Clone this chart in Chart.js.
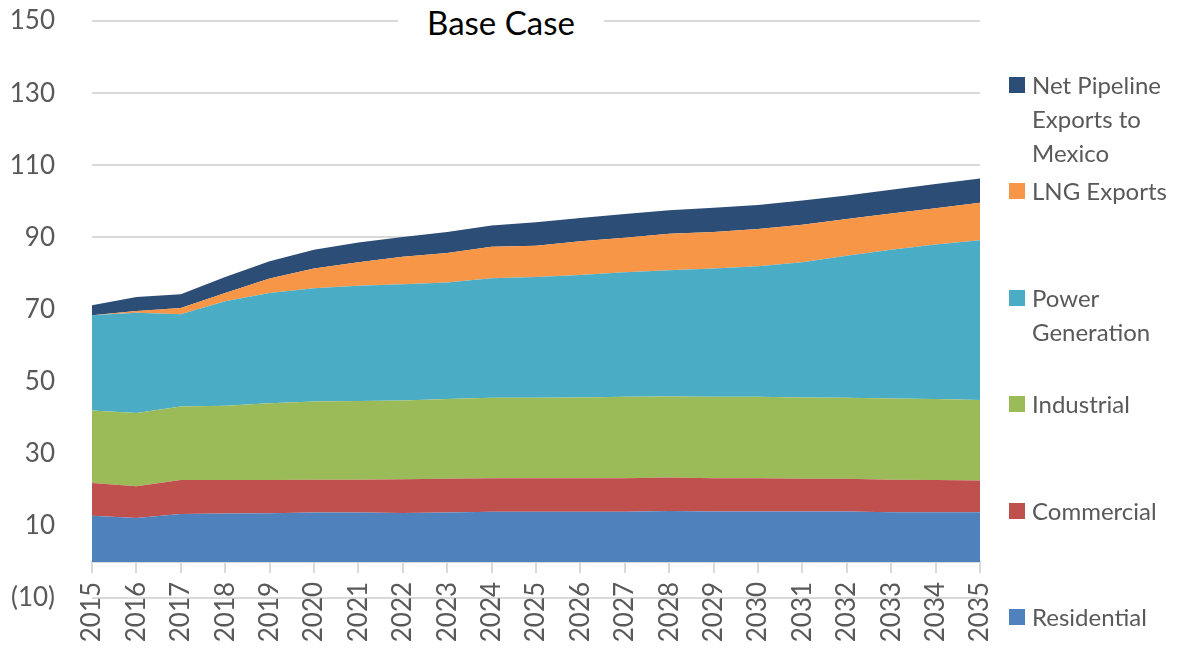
<!DOCTYPE html>
<html>
<head>
<meta charset="utf-8">
<script src="https://cdn.jsdelivr.net/npm/chart.js@4.4.1/dist/chart.umd.min.js"></script>
<style>
  html, body { margin: 0; padding: 0; background: #fff; }
  #wrap { position: relative; width: 1177px; height: 650px; font-family: Lato, sans-serif; }
  #title { position: absolute; left: 398px; top: 0; width: 206px; height: 44px; background: #fff;
           text-align: center; font-size: 33px; line-height: 44px; color: #000; }
  #legend { position: absolute; left: 1009px; top: 0; }
  .item { position: absolute; left: 0; display: flex; align-items: flex-start; }
  .box { width: 16px; height: 16px; margin-top: 9px; margin-right: 7px; flex: none; }
  .lbl { font-size: 24px; line-height: 34px; color: #595959; width: 150px; }
</style>
</head>
<body>
<div id="wrap">
  <canvas id="chart" width="1177" height="650"></canvas>
  <div id="title">Base Case</div>
  <div id="legend"></div>
</div>
<script>
// x categories
const years = ['2015', '2016', '2017', '2018', '2019', '2020', '2021', '2022', '2023', '2024', '2025',
               '2026', '2027', '2028', '2029', '2030', '2031', '2032', '2033', '2034', '2035'];

// series values (stacked bottom to top)
const residential = [12.8, 12.2, 13.3, 13.4, 13.5, 13.7, 13.7, 13.6, 13.7, 13.9, 13.9, 13.9, 13.9, 14.1, 14.0, 14.0, 14.0, 14.0, 13.8, 13.8, 13.8];
const commercial  = [9.1, 8.8, 9.4, 9.3, 9.2, 9.1, 9.1, 9.3, 9.4, 9.3, 9.3, 9.3, 9.3, 9.3, 9.2, 9.2, 9.1, 9.1, 9.0, 8.9, 8.8];
const industrial  = [20.1, 20.3, 20.4, 20.6, 21.3, 21.7, 21.8, 21.9, 22.1, 22.3, 22.3, 22.4, 22.6, 22.5, 22.6, 22.6, 22.5, 22.4, 22.5, 22.5, 22.3];
const powerGen    = [26.4, 27.8, 25.6, 29.0, 30.6, 31.4, 32.0, 32.2, 32.3, 33.2, 33.5, 34.0, 34.5, 35.0, 35.6, 36.2, 37.5, 39.4, 41.3, 42.8, 44.3];
const lngExports  = [0.0, 0.5, 1.7, 2.3, 4.0, 5.5, 6.5, 7.6, 8.2, 8.7, 8.7, 9.3, 9.6, 10.1, 10.1, 10.3, 10.4, 10.2, 10.0, 10.1, 10.4];
const netPipeline = [2.8, 3.9, 3.8, 4.4, 4.8, 5.2, 5.5, 5.5, 5.8, 5.9, 6.5, 6.5, 6.6, 6.5, 6.7, 6.7, 6.7, 6.5, 6.6, 6.7, 6.7];

const seriesNames = ['Residential', 'Commercial', 'Industrial', 'Power Generation', 'LNG Exports', 'Net Pipeline Exports to Mexico'];
const seriesData = [residential, commercial, industrial, powerGen, lngExports, netPipeline];
const seriesColors = ['#4F81BD', '#C0504D', '#9BBB59', '#4BACC6', '#F79646', '#2C4D75'];

// y axis range
const yMin = -10;
const yMax = 150;
const yStep = 20;

const datasets = seriesNames.map((name, i) => ({
  label: name,
  data: seriesData[i],
  backgroundColor: seriesColors[i],
  borderWidth: 0,
  pointRadius: 0,
  fill: i === 0 ? 'origin' : '-1',
  tension: 0,
}));

const tickFont = { family: 'Lato', size: 26 };

new Chart(document.getElementById('chart'), {
  type: 'line',
  data: { labels: years, datasets },
  options: {
    responsive: false,
    animation: false,
    layout: { padding: { left: 0, top: 21, right: 197, bottom: 52 } },
    scales: {
      x: {
        position: { y: 0 },
        offset: false,
        grid: { display: true, drawOnChartArea: false, drawTicks: true, tickLength: 10, color: '#d9d9d9', lineWidth: 2 },
        border: { display: true, color: '#d9d9d9', width: 2 },
        ticks: { autoSkip: false, minRotation: 90, maxRotation: 90, padding: 10, color: '#595959', font: tickFont },
      },
      y: {
        stacked: true,
        min: yMin,
        max: yMax,
        // invisible tick marks give the gap between labels and plot without extra top padding
        grid: { color: '#d9d9d9', lineWidth: 2, drawTicks: true, tickLength: 37, tickColor: 'rgba(0,0,0,0)', z: -1 },
        border: { display: false },
        ticks: {
          stepSize: yStep,
          padding: 0,
          color: '#595959',
          font: tickFont,
          callback: (v) => (v < 0 ? '(' + (-v) + ')' : v),
        },
        afterFit: (scale) => { scale.width = 92; },
      },
    },
    plugins: {
      legend: { display: false },
      title: { display: false },
      tooltip: { enabled: false },
    },
  },
});

// legend, top entry = last series, spread down the right side
const legend = document.getElementById('legend');
for (let k = 0; k < seriesNames.length; k++) {
  const i = seriesNames.length - 1 - k;
  const item = document.createElement('div');
  item.className = 'item';
  item.style.top = (68 + k * 106.4) + 'px';
  item.innerHTML = '<div class="box" style="background:' + seriesColors[i] + '"></div><div class="lbl">' + seriesNames[i] + '</div>';
  legend.appendChild(item);
}
</script>
</body>
</html>
